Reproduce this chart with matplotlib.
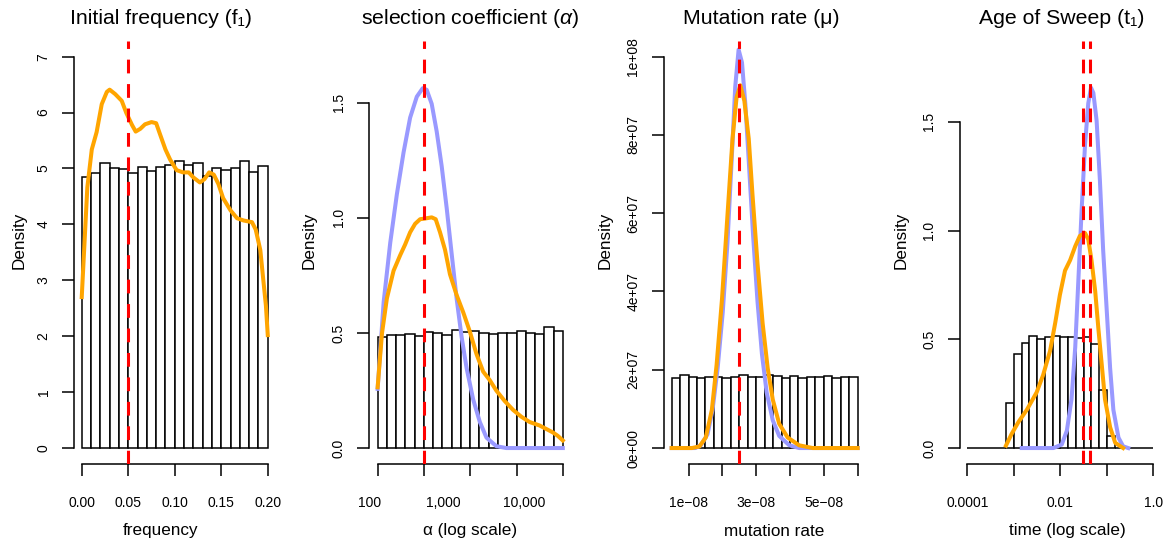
import matplotlib
matplotlib.use("Agg")
import matplotlib.pyplot as plt
import numpy as np

plt.rcParams['font.family'] = ['Liberation Sans', 'DejaVu Sans']
plt.rcParams['mathtext.fontset'] = 'custom'
plt.rcParams['mathtext.rm'] = 'Liberation Sans'
plt.rcParams['mathtext.it'] = 'Liberation Sans:italic'

# ---------------- data ----------------
# Panel 1: initial frequency
freq_bin_edges = np.round(np.arange(0, 0.2001, 0.01), 4)
freq_hist = [4.84, 4.92, 5.09, 5.01, 4.99, 4.92, 5.03, 4.96, 5.03, 5.06,
             5.13, 5.06, 5.09, 4.87, 5.00, 4.97, 5.00, 5.13, 4.93, 5.04]
freq_post_x = [0.0, 0.006, 0.0108, 0.016, 0.0215, 0.027, 0.030, 0.036, 0.043, 0.048,
               0.054, 0.058, 0.063, 0.068, 0.075, 0.080, 0.084, 0.090, 0.095, 0.102,
               0.109, 0.115, 0.120, 0.127, 0.132, 0.137, 0.142, 0.147, 0.152, 0.160,
               0.167, 0.174, 0.183, 0.187, 0.192, 0.195, 0.198, 0.200]
freq_post_y = [2.70, 4.66, 5.34, 5.65, 6.15, 6.37, 6.41, 6.33, 6.21, 5.99,
               5.78, 5.66, 5.71, 5.79, 5.83, 5.81, 5.62, 5.34, 5.16, 4.97,
               4.93, 4.93, 4.84, 4.75, 4.81, 4.93, 4.89, 4.72, 4.47, 4.25,
               4.11, 4.07, 4.04, 3.91, 3.54, 3.04, 2.55, 2.02]
freq_true = [0.05]
freq_xticks = [0.00, 0.05, 0.10, 0.15, 0.20]
freq_xticklabels = ["0.00", "0.05", "0.10", "0.15", "0.20"]
freq_yticks = [0, 1, 2, 3, 4, 5, 6, 7]

# Panel 2: selection coefficient (log10 alpha)
sel_bin_edges = np.round(np.arange(2.0, 4.0001, 0.1), 4)
sel_hist = [0.483, 0.493, 0.491, 0.494, 0.486, 0.503, 0.500, 0.493, 0.513, 0.505,
            0.509, 0.499, 0.496, 0.499, 0.499, 0.509, 0.499, 0.496, 0.526, 0.509]
sel_prior_x = [2.0, 2.065, 2.136, 2.208, 2.280, 2.351, 2.423, 2.487, 2.530, 2.584,
               2.638, 2.692, 2.746, 2.799, 2.853, 2.907, 2.961, 3.032, 3.104, 3.176,
               3.283, 3.39, 4.0]
sel_prior_y = [0.257, 0.634, 0.891, 1.103, 1.284, 1.435, 1.526, 1.563, 1.556, 1.495,
               1.375, 1.224, 1.042, 0.846, 0.650, 0.483, 0.347, 0.211, 0.113, 0.045,
               0.008, 0.0, 0.0]
sel_post_x = [2.0, 2.047, 2.100, 2.172, 2.244, 2.297, 2.351, 2.405, 2.459, 2.513,
              2.584, 2.627, 2.674, 2.728, 2.781, 2.853, 2.925, 2.996, 3.068, 3.140,
              3.211, 3.283, 3.373, 3.462, 3.552, 3.642, 3.749, 3.821, 3.892, 3.946, 4.0]
sel_post_y = [0.264, 0.498, 0.650, 0.770, 0.838, 0.884, 0.937, 0.974, 0.994, 0.997,
              1.002, 0.994, 0.937, 0.861, 0.755, 0.665, 0.589, 0.506, 0.408, 0.332,
              0.295, 0.249, 0.204, 0.166, 0.136, 0.113, 0.098, 0.083, 0.068, 0.053, 0.033]
sel_true = [2.5]
sel_xticks = [2.0, 2.5, 3.0, 3.5, 4.0]
sel_label_pos = [1.91, 2.71, 3.58]
sel_labels = ["100", "1,000", "10,000"]
sel_yticks = [0.0, 0.5, 1.0, 1.5]

# Panel 3: mutation rate
mu_bin_edges = np.round(np.arange(0.5, 6.0001, 0.25), 4) * 1e-8
mu_hist = [1.797, 1.856, 1.814, 1.789, 1.814, 1.814, 1.797, 1.814, 1.864, 1.814, 1.814,
           1.856, 1.831, 1.789, 1.831, 1.797, 1.822, 1.822, 1.831, 1.789, 1.822, 1.822]  # x1e7
mu_prior_x = [0.5, 1.2, 1.36, 1.56, 1.71, 1.86, 2.01, 2.15, 2.28, 2.38, 2.48, 2.58, 2.68,
              2.79, 2.91, 3.04, 3.17, 3.31, 3.49, 3.68, 3.98, 4.27, 6.0]  # x1e-8
mu_prior_y = [0.0, 0.0, 0.7, 3.5, 9.8, 20.4, 34.6, 52.4, 74.5, 92.3, 101.8, 98.5, 87.8,
              71.9, 54.1, 37.3, 24.0, 14.2, 7.1, 3.1, 0.7, 0.0, 0.0]  # x1e6
mu_post_x = [0.5, 1.1, 1.32, 1.51, 1.69, 1.83, 1.99, 2.15, 2.30, 2.42, 2.53, 2.65, 2.78,
             2.89, 3.04, 3.19, 3.34, 3.49, 3.68, 3.93, 4.27, 4.67, 6.0]  # x1e-8
mu_post_y = [0.0, 0.0, 0.4, 2.7, 9.8, 21.3, 38.2, 59.4, 79.0, 89.6, 92.7, 88.7, 79.0,
             64.8, 47.0, 31.9, 20.4, 12.4, 6.2, 2.7, 0.7, 0.0, 0.0]  # x1e6
mu_true = [2.5e-8]
mu_xticks = [1e-8, 2e-8, 3e-8, 4e-8, 5e-8, 6e-8]
mu_xticklabels = ["1e\u221208", "", "3e\u221208", "", "5e\u221208", ""]
mu_yticks = [0, 2e7, 4e7, 6e7, 8e7, 1e8]
mu_yticklabels = ["0e+00", "2e+07", "4e+07", "6e+07", "8e+07", "1e+08"]

# Panel 4: age of sweep (log10 time)
age_bin_edges = np.round(np.linspace(-4.0, 0.0, 25), 5)
age_hist = [0, 0, 0, 0, 0, 0.206, 0.434, 0.483, 0.514, 0.500, 0.511, 0.514, 0.511,
            0.511, 0.506, 0.509, 0.480, 0.265, 0.057, 0, 0, 0, 0, 0]
age_prior_x = [-2.83, -2.15, -1.97, -1.86, -1.76, -1.68, -1.61, -1.54, -1.47, -1.40,
               -1.34, -1.29, -1.22, -1.15, -1.08, -1.00, -0.93, -0.86, -0.75, -0.65, -0.54]
age_prior_y = [0.0, 0.0, 0.016, 0.08, 0.224, 0.464, 0.784, 1.105, 1.393, 1.585,
               1.657, 1.633, 1.505, 1.233, 0.912, 0.624, 0.368, 0.176, 0.048, 0.008, 0.0]
age_post_x = [-3.17, -3.05, -2.90, -2.72, -2.51, -2.37, -2.22, -2.11, -2.01, -1.90,
              -1.79, -1.68, -1.58, -1.47, -1.40, -1.33, -1.25, -1.18, -1.11, -1.04,
              -0.93, -0.82, -0.65]
age_post_y = [0.011, 0.064, 0.12, 0.176, 0.256, 0.336, 0.448, 0.576, 0.704, 0.816,
              0.864, 0.928, 0.976, 0.989, 0.960, 0.864, 0.720, 0.544, 0.384, 0.224,
              0.096, 0.024, 0.0]
age_true = [-1.505, -1.36]
age_xticks = [-4, -3, -2, -1, 0]
age_xticklabels = ["0.0001", "", "0.01", "", "1.0"]
age_yticks = [0.0, 0.5, 1.0, 1.5]

titles = ["Initial frequency (f\u2081)", r"selection coefficient ($\it{\alpha}$)",
          "Mutation rate (\u03bc)", "Age of Sweep (t\u2081)"]
xlabels = ["frequency", "\u03b1 (log scale)", "mutation rate", "time (log scale)"]

# ---------------- style / layout ----------------
W, H = 1166, 544
fig = plt.figure(figsize=(W / 100, H / 100), dpi=100)

ORANGE = "#FFA500"
BLUE = "#9999FF"
RED = "#FF0000"
TOP, BOT = 41.0, 463.7
lefts = [74.3, 369.3, 664.2, 959.9]
AXW = 200.9
title_cx = [161, 470, 761, 1061.5]
xlabel_cx = [161, 470, 774, 1067]
ylabel_cx = [19, 309, 605, 901]
TICKLEN = 8.6
TICKFS = 10.0
LABFS = 12.3
TITFS = 15.3
XPAD = 14.5


def make_ax(i):
    ax = fig.add_axes([lefts[i] / W, 1 - BOT / H, AXW / W, (BOT - TOP) / H])
    for s in ["top", "right"]:
        ax.spines[s].set_visible(False)
    for s in ["left", "bottom"]:
        ax.spines[s].set_linewidth(1.1)
    ax.tick_params(which="both", direction="out", length=TICKLEN, width=1.1,
                   labelsize=TICKFS)
    ax.tick_params(axis="x", pad=XPAD)
    ax.tick_params(axis="y", labelrotation=90, pad=8.5)
    fig.text(title_cx[i] / W, 1 - 18 / H, titles[i], ha="center", va="center",
             fontsize=TITFS)
    fig.text(xlabel_cx[i] / W, 1 - 531 / H, xlabels[i], ha="center", va="center",
             fontsize=LABFS)
    fig.text(ylabel_cx[i] / W, 1 - 240 / H, "Density", ha="center", va="center",
             rotation=90, fontsize=LABFS)
    return ax


def draw_hist(ax, edges, heights, scale=1.0):
    edges = np.asarray(edges, dtype=float)
    ax.bar(edges[:-1], np.asarray(heights) * scale, width=np.diff(edges), align="edge",
           color="white", edgecolor="black", linewidth=1.1, zorder=2)


def vlines(ax, xs):
    for x in xs:
        ax.axvline(x, color=RED, lw=2.2, dashes=(4.5, 3.5), zorder=5)


def set_yticks(ax, ticks, labels):
    ax.set_yticks(ticks)
    ax.set_yticklabels(labels, rotation=90, va="center")
    ax.spines["left"].set_bounds(ticks[0], ticks[-1])


# Panel 1
ax = make_ax(0)
draw_hist(ax, freq_bin_edges, freq_hist)
ax.plot(freq_post_x, freq_post_y, color=ORANGE, lw=2.9, zorder=4)
vlines(ax, freq_true)
ax.set_xlim(-0.008, 0.208)
ax.set_ylim(-0.28, 7.28)
ax.set_xticks(freq_xticks)
ax.set_xticklabels(freq_xticklabels)
ax.spines["bottom"].set_bounds(freq_xticks[0], freq_xticks[-1])
set_yticks(ax, freq_yticks, [str(t) for t in freq_yticks])

# Panel 2
ax = make_ax(1)
draw_hist(ax, sel_bin_edges, sel_hist)
ax.plot(sel_prior_x, sel_prior_y, color=BLUE, lw=2.9, zorder=3)
ax.plot(sel_post_x, sel_post_y, color=ORANGE, lw=2.9, zorder=4)
vlines(ax, sel_true)
ax.set_xlim(1.92, 4.08)
ax.set_ylim(-0.068, 1.768)
ax.set_xticks(sel_label_pos)
ax.set_xticklabels(sel_labels)
ax.set_xticks(sel_xticks, minor=True)
ax.tick_params(axis="x", which="major", length=0, pad=XPAD + TICKLEN)
ax.spines["bottom"].set_bounds(sel_xticks[0], sel_xticks[-1])
set_yticks(ax, sel_yticks, ["0.0", "0.5", "1.0", "1.5"])

# Panel 3
ax = make_ax(2)
draw_hist(ax, mu_bin_edges, mu_hist, scale=1e7)
ax.plot(np.asarray(mu_prior_x) * 1e-8, np.asarray(mu_prior_y) * 1e6, color=BLUE, lw=2.9, zorder=3)
ax.plot(np.asarray(mu_post_x) * 1e-8, np.asarray(mu_post_y) * 1e6, color=ORANGE, lw=2.9, zorder=4)
vlines(ax, mu_true)
ax.set_xlim(0.28e-8, 6.22e-8)
ax.set_ylim(-4e6, 1.04e8)
ax.set_xticks(mu_xticks)
ax.set_xticklabels(mu_xticklabels)
ax.spines["bottom"].set_bounds(mu_xticks[0], mu_xticks[-1])
set_yticks(ax, mu_yticks, mu_yticklabels)

# Panel 4
ax = make_ax(3)
draw_hist(ax, age_bin_edges, age_hist)
ax.plot(age_prior_x, age_prior_y, color=BLUE, lw=2.9, zorder=3)
ax.plot(age_post_x, age_post_y, color=ORANGE, lw=2.9, zorder=4)
vlines(ax, age_true)
ax.set_xlim(-4.16, 0.16)
ax.set_ylim(-0.072, 1.872)
ax.set_xticks(age_xticks)
ax.set_xticklabels(age_xticklabels)
ax.spines["bottom"].set_bounds(age_xticks[0], age_xticks[-1])
set_yticks(ax, age_yticks, ["0.0", "0.5", "1.0", "1.5"])

fig.savefig("out.png", dpi=100)
